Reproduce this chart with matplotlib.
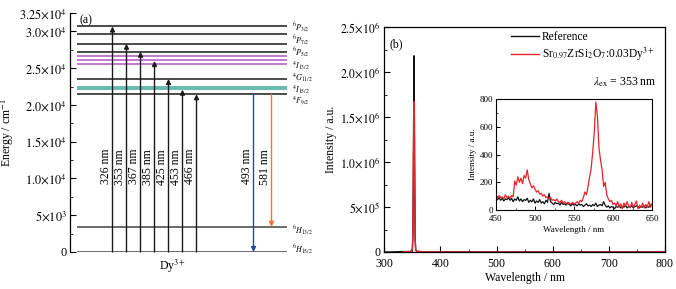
import numpy as np
import matplotlib
matplotlib.use("Agg")
import matplotlib.pyplot as plt
from matplotlib.ticker import MultipleLocator

plt.rcParams['font.family'] = ['Liberation Serif', 'DejaVu Serif']
plt.rcParams['mathtext.fontset'] = 'stix'

# ---------------- data: panel (a) energy levels ----------------
level_energies = [30750, 29690, 28330, 27250, 26600, 26160, 25610, 23530, 22440, 22170, 21460, 3420, 0]
level_kinds = ['k', 'k', 'k', 'k', 'p', 'p', 'p', 'k', 't', 't', 'k', 'g', 'g']
level_names = [r'$^{6}P_{3/2}$', r'$^{6}P_{7/2}$', r'$^{6}P_{5/2}$', r'$^{4}I_{13/2}$',
               r'$^{4}G_{11/2}$', r'$^{4}I_{15/2}$', r'$^{4}F_{9/2}$',
               r'$^{6}H_{13/2}$', r'$^{6}H_{15/2}$']
level_name_energy = [30500, 28750, 27150, 25300, 23700, 22100, 20500, 3000, 420]
excitation_nm = [326, 353, 367, 385, 425, 453, 466]
emission_nm = [493, 581]
emission_from = [21460, 21460]
emission_to = [0, 3420]

# ---------------- data: panel (b) spectra ----------------
peak_wl_ref = [300, 310, 333, 340, 345, 348, 350, 351, 352, 353, 354, 355, 356, 358, 362, 370, 380, 400, 420, 440, 448]
peak_ref = [0, 0, 5e3, 4e3, 5e3, 8e3, 3e4, 2e5, 1.2e6, 2.18e6, 1.0e6, 1.5e5, 2e4, 8e3, 5e3, 3e3, 2e3, 1e3, 500, 200, 100]
peak_wl_smp = [333, 340, 345, 348, 350, 351, 352, 353, 354, 355, 356, 358, 362, 370, 380, 400, 420, 440, 448]
peak_smp = [3e3, 3e3, 4e3, 7e3, 3e4, 2e5, 1.1e6, 1.67e6, 9e5, 1.2e5, 2e4, 8e3, 5e3, 3e3, 2e3, 1e3, 500, 300, 150]

inset_wl = list(range(450, 651, 2))
inset_smp = [100, 85, 105, 90, 95, 80, 110, 90, 100, 85, 105, 95,
             210, 180, 240, 200, 230, 190, 250, 230, 290, 220,
             190, 160, 175, 150, 130, 140, 115, 120, 100, 110,
             90, 95, 80, 90, 70, 75, 65, 80, 60, 55,
             70, 50, 60, 45, 55, 50, 40, 55, 45, 50,
             60, 50, 70, 60, 90, 130, 110, 170, 240, 300,
             420, 560, 780, 680, 450, 360, 290, 170, 200, 110,
             80, 60, 70, 40, 50, 30, 60, 20, 45, 10,
             50, 25, 60, 30, 15, 55, 20, 40, 65, 10,
             35, 20, 50, 15, 40, 25, 60, 20, 45]
inset_ref = [80, 75, 90, 70, 85, 65, 80, 75, 90, 70,
             85, 60, 80, 70, 95, 65, 80, 60, 75, 70,
             85, 55, 70, 60, 80, 50, 65, 55, 75, 50,
             60, 45, 70, 55, 120, 60, 50, 40, 55, 45,
             50, 35, 55, 40, 45, 35, 50, 40, 30, 45,
             35, 40, 30, 45, 35, 40, 25, 35, 45, 30,
             35, 25, 40, 30, 50, 25, 35, 40, 30, 60,
             35, 20, 30, 15, 25, 20, 10, 25, 20, 30,
             15, 25, 20, 35, 15, 25, 20, 30, 15, 25,
             30, 20, 15, 25, 20, 30, 15, 25, 20, 35, 40]
tail_wl = [660, 680, 700, 720, 740, 760, 780, 800]
tail_ref = [20, 25, 20, 15, 20, 25, 20, 20]
tail_smp = [30, 25, 35, 30, 25, 30, 35, 30]

left_ticks = [0, 5000, 10000, 15000, 20000, 25000, 30000, 32500]
left_ticklabels = ['0', r'$5{\times}10^{3}$', r'$1.0{\times}10^{4}$', r'$1.5{\times}10^{4}$',
                   r'$2.0{\times}10^{4}$', r'$2.5{\times}10^{4}$', r'$3.0{\times}10^{4}$',
                   r'$3.25{\times}10^{4}$']
right_ticks = [0, 5e5, 1e6, 1.5e6, 2e6, 2.5e6]
right_ticklabels = ['0', r'$5{\times}10^{5}$', r'$1.0{\times}10^{6}$', r'$1.5{\times}10^{6}$',
                    r'$2.0{\times}10^{6}$', r'$2.5{\times}10^{6}$']

# ---------------- figure ----------------
W, H = 676, 289
fig = plt.figure(figsize=(W / 100, H / 100), dpi=100)

kind_color = {'k': '#1a1a1a', 'p': '#b155c4', 't': '#3ea79c', 'g': '#444444'}

# panel (a): axes in pixel units horizontally
axL = fig.add_axes([69.5 / W, 1 - 252 / H, 231 / W, (252 - 13) / H])
axL.set_xlim(0, 231)
axL.set_ylim(0, 32500)
for s in ['top', 'right', 'bottom']:
    axL.spines[s].set_visible(False)
axL.spines['left'].set_linewidth(0.9)
axL.set_xticks([])
axL.set_yticks(left_ticks)
axL.set_yticklabels(left_ticklabels)
axL.yaxis.set_minor_locator(MultipleLocator(2500))
axL.tick_params(axis='y', which='major', direction='in', length=4, width=0.8, labelsize=8.8, pad=2)
axL.tick_params(axis='y', which='minor', direction='in', length=2, width=0.6)
axL.set_ylabel(r'Energy / cm$^{-1}$', fontsize=8.5, labelpad=2)

axL.hlines(level_energies, 7.5, 217.5, colors=[kind_color[k] for k in level_kinds], lw=1.1)
for name, e in zip(level_names, level_name_energy):
    axL.text(223, e, name, fontsize=5.8, ha='left', va='center')

ex_x = [43 + 14 * i for i in range(len(excitation_nm))]
for x, nm in zip(ex_x, excitation_nm):
    axL.annotate('', xy=(x, 1e7 / nm), xytext=(x, 0),
                 arrowprops=dict(arrowstyle='-|>', color='#1a1a1a', lw=1.0,
                                 mutation_scale=7, shrinkA=0, shrinkB=0))
    axL.text(x - 6.5, 11600, f'{nm} nm', rotation=90, fontsize=8.5, ha='center', va='center')

em_x = [184, 202]
em_color = ['#2446b0', '#f07434']
for x, nm, e0, e1, c in zip(em_x, emission_nm, emission_from, emission_to, em_color):
    axL.annotate('', xy=(x, e1), xytext=(x, e0),
                 arrowprops=dict(arrowstyle='-|>', color=c, lw=1.0,
                                 mutation_scale=7, shrinkA=0, shrinkB=0))
    axL.text(x - 6.5, 11600, f'{nm} nm', rotation=90, fontsize=8.5, ha='center', va='center')

axL.text(0.045, 0.995, '(a)', transform=axL.transAxes, fontsize=8.5, ha='left', va='top')
fig.text(172 / W, 1 - 266 / H, r'Dy$^{3+}$', fontsize=8.5, ha='center', va='center')

# panel (b)
axR = fig.add_axes([384.3 / W, 1 - 252 / H, (665 - 384.3) / W, (252 - 27) / H])
full_wl_ref = peak_wl_ref + inset_wl + tail_wl
full_ref = peak_ref + inset_ref + tail_ref
full_wl_smp = peak_wl_smp + inset_wl + tail_wl
full_smp = peak_smp + inset_smp + tail_smp
axR.plot(full_wl_ref, full_ref, color='#111111', lw=1.0, label='Reference')
axR.plot(full_wl_smp, full_smp, color='#e8232b', lw=1.0,
         label=r'Sr$_{0.97}$ZrSi$_{2}$O$_{7}$:0.03Dy$^{3+}$')
axR.set_xlim(300, 800)
axR.set_ylim(0, 2.5e6)
axR.set_yticks(right_ticks)
axR.set_yticklabels(right_ticklabels)
axR.set_xticks([300, 400, 500, 600, 700, 800])
axR.xaxis.set_minor_locator(MultipleLocator(50))
axR.yaxis.set_minor_locator(MultipleLocator(2.5e5))
axR.tick_params(which='major', direction='in', length=4, width=0.8, labelsize=8.5, pad=2)
axR.tick_params(axis='y', which='major', pad=3)
axR.tick_params(axis='x', which='major', pad=4.5)
axR.tick_params(which='minor', direction='in', length=2, width=0.6)
for s in axR.spines.values():
    s.set_linewidth(0.9)
axR.set_xlabel('Wavelength / nm', fontsize=8.5, labelpad=1)
axR.set_ylabel('Intensity / a.u.', fontsize=8.5, labelpad=2)
axR.text(0.02, 0.95, '(b)', transform=axR.transAxes, fontsize=8.5, ha='left', va='top')
axR.legend(loc='upper left', bbox_to_anchor=(511 / W, 1 - 31 / H), bbox_transform=fig.transFigure,
           frameon=False, fontsize=8.3, handlelength=2.4, handletextpad=0.3,
           labelspacing=0.25, borderpad=0, borderaxespad=0)
axR.text(0.97, 1 - (82 - 27) / 225, r'$\lambda_{\rm ex}$ = 353 nm', transform=axR.transAxes,
         fontsize=8.5, ha='right', va='center')

# inset
axI = fig.add_axes([496 / W, 1 - 210 / H, (652 - 496) / W, (210 - 99.3) / H])
axI.plot(inset_wl, inset_ref, color='#111111', lw=0.9)
axI.plot(inset_wl, inset_smp, color='#e8232b', lw=0.9)
axI.set_xlim(450, 650)
axI.set_ylim(0, 800)
axI.set_xticks([450, 500, 550, 600, 650])
axI.set_yticks([0, 200, 400, 600, 800])
axI.xaxis.set_minor_locator(MultipleLocator(25))
axI.yaxis.set_minor_locator(MultipleLocator(100))
axI.tick_params(which='major', direction='in', length=3, width=0.7, labelsize=6.5, pad=2)
axI.tick_params(axis='x', which='major', pad=3.5)
axI.tick_params(which='minor', direction='in', length=1.5, width=0.5)
for s in axI.spines.values():
    s.set_linewidth(0.8)
axI.set_xlabel('Wavelength / nm', fontsize=6.5, labelpad=2)
axI.set_ylabel('Intensity / a.u.', fontsize=6.5, labelpad=2)

fig.savefig('out.png', dpi=100)
